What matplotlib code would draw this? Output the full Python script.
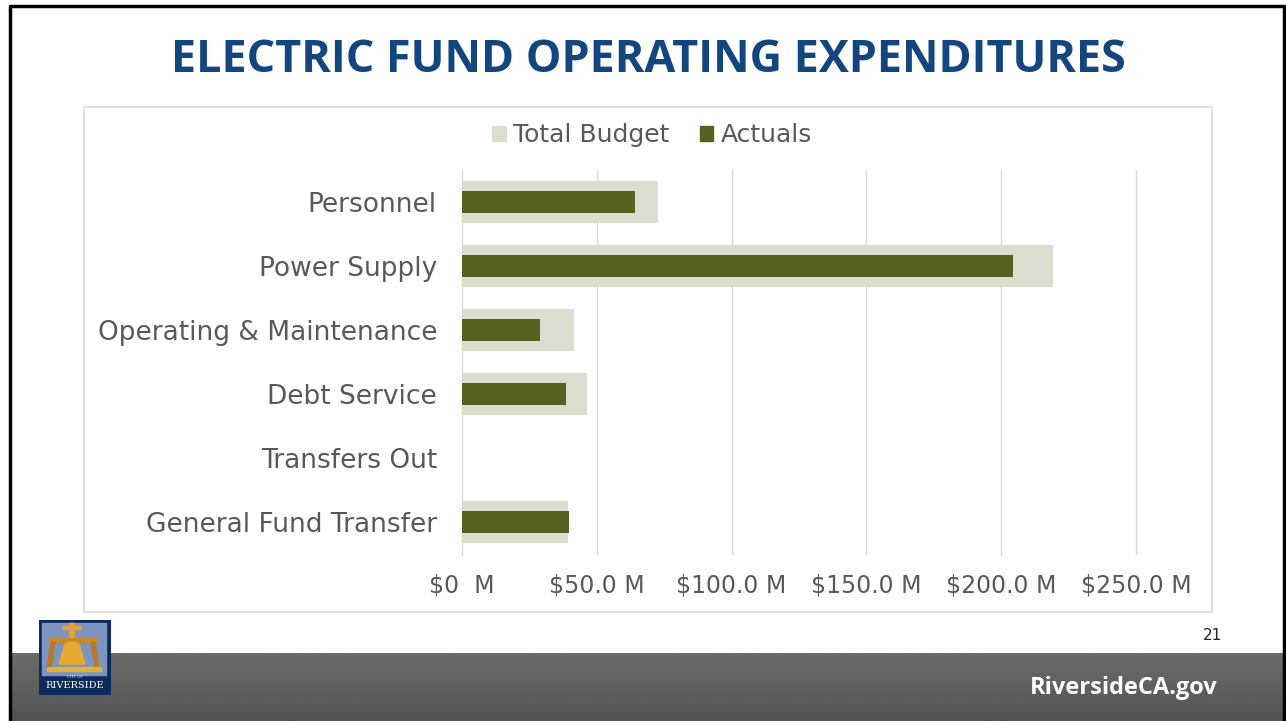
import numpy as np
import matplotlib.pyplot as plt
from matplotlib.patches import Rectangle, Patch, Polygon, Ellipse
from matplotlib.lines import Line2D

# -----------------------------
# Data ($ millions)
# -----------------------------
categories = ["Personnel", "Power Supply", "Operating & Maintenance",
              "Debt Service", "Transfers Out", "General Fund Transfer"]
total_budget = [72.8, 219.3, 41.6, 46.4, 0.5, 39.3]
actuals = [64.3, 204.3, 29.0, 38.5, 0.0, 39.6]
x_ticks = [0, 50, 100, 150, 200, 250]
x_tick_labels = ["$0  M", "$50.0 M", "$100.0 M", "$150.0 M", "$200.0 M", "$250.0 M"]

budget_color = "#DCDCCF"
actual_color = "#586220"
text_gray = "#595959"
title_blue = "#13467E"

W, H = 1286, 721
fig = plt.figure(figsize=(W / 100, H / 100), dpi=100)
fig.patch.set_facecolor("white")


def px_rect(x0, y0, x1, y1):
    # pixel box (top-left origin) -> figure fraction [l, b, w, h]
    return [x0 / W, 1 - y1 / H, (x1 - x0) / W, (y1 - y0) / H]


# -----------------------------
# Slide decoration
# -----------------------------
# footer gradient band
fax = fig.add_axes(px_rect(10, 653, 1286, 721))
grad = np.linspace(0.42, 0.33, 50).reshape(-1, 1)
fax.imshow(np.repeat(grad, 2, axis=1), cmap="gray", vmin=0, vmax=1,
           aspect="auto", extent=[0, 1, 0, 1], origin="upper")
fax.set_axis_off()
fig.text(1218 / W, 1 - 688 / H, "RiversideCA.gov", color="white",
         fontsize=17, fontweight="bold", family="Open Sans",
         ha="right", va="center")
fig.text(1222 / W, 1 - 635 / H, "21", color="#222222", fontsize=11,
         ha="right", va="center")

# slide border (left, top, right)
bx0, bx1, by = 9.5 / W, 1284 / W, 1 - 5.5 / H
fig.add_artist(Line2D([bx0, bx0, bx1, bx1], [0, by, by, 0],
                      transform=fig.transFigure, color="black", lw=2.5))

# chart frame
fig.add_artist(Rectangle((83.5 / W, 1 - 611.5 / H), (1211.5 - 83.5) / W,
                         (611.5 - 107) / H, transform=fig.transFigure,
                         fill=False, edgecolor="#D9D9D9", lw=1.2))

# title
fig.text(648 / W, 1 - 60 / H, "ELECTRIC FUND OPERATING EXPENDITURES",
         color=title_blue, fontsize=32.3, fontweight="bold",
         family="Open Sans", ha="center", va="center")

# logo
lax = fig.add_axes(px_rect(39, 620, 111, 695))
lax.set_xlim(0, 72)
lax.set_ylim(75, 0)
lax.set_axis_off()
lax.add_patch(Rectangle((0, 0), 72, 75, color="#0E2A5A"))
lax.add_patch(Rectangle((3, 3), 64, 52, color="#7C95C0"))
lax.add_patch(Rectangle((30, 3), 5, 14, color="#E0A43A"))
lax.add_patch(Rectangle((24, 6), 17, 3, color="#E0A43A"))
lax.add_patch(Rectangle((10, 18), 48, 4, color="#C98A2A"))
lax.add_patch(Polygon([[12, 22], [16, 22], [12, 48], [8, 48]], color="#B9782A"))
lax.add_patch(Polygon([[52, 22], [56, 22], [60, 48], [56, 48]], color="#B9782A"))
lax.add_patch(Polygon([[26, 24], [40, 24], [46, 44], [20, 44]], color="#E8A830"))
lax.add_patch(Ellipse((33, 26), 14, 8, color="#E8A830"))
lax.add_patch(Rectangle((8, 47), 54, 4, color="#E0B040"))
lax.text(36, 57, "CITY OF", color="white", fontsize=3, ha="center", va="center")
lax.text(36, 66, "RIVERSIDE", color="white", fontsize=7, family="DejaVu Serif",
         ha="center", va="center")

# -----------------------------
# Chart
# -----------------------------
ax = fig.add_axes(px_rect(462, 170, 1136, 554))
y = np.arange(len(categories))
ax.barh(y, total_budget, height=0.66, color=budget_color, zorder=2,
        label="Total Budget")
ax.barh(y, actuals, height=0.33, color=actual_color, zorder=3,
        label="Actuals", linewidth=0)

ax.set_xlim(0, 250)
ax.set_ylim(len(categories) - 0.5, -0.5)
ax.set_xticks(x_ticks)
ax.set_xticklabels(x_tick_labels, fontsize=17, color=text_gray)
ax.set_yticks(y)
ax.set_yticklabels(categories, fontsize=19, color=text_gray)
ax.tick_params(axis="both", length=0)
ax.tick_params(axis="x", pad=14)
ax.tick_params(axis="y", pad=18)
ax.grid(axis="x", color="#D9D9D9", lw=1, zorder=0)
for gl in ax.get_xgridlines():
    gl.set_clip_on(False)
ax.set_axisbelow(True)
for s in ax.spines.values():
    s.set_visible(False)

handles = [Patch(color=budget_color), Patch(color=actual_color)]
fig.legend(handles, ["Total Budget", "Actuals"], loc="center",
           bbox_to_anchor=(652 / W, 1 - 135 / H), ncol=2, frameon=False,
           fontsize=18, handlelength=0.55, handleheight=0.55,
           handletextpad=0.3, columnspacing=1.2, labelcolor=text_gray)

fig.savefig("out.png", dpi=100)
